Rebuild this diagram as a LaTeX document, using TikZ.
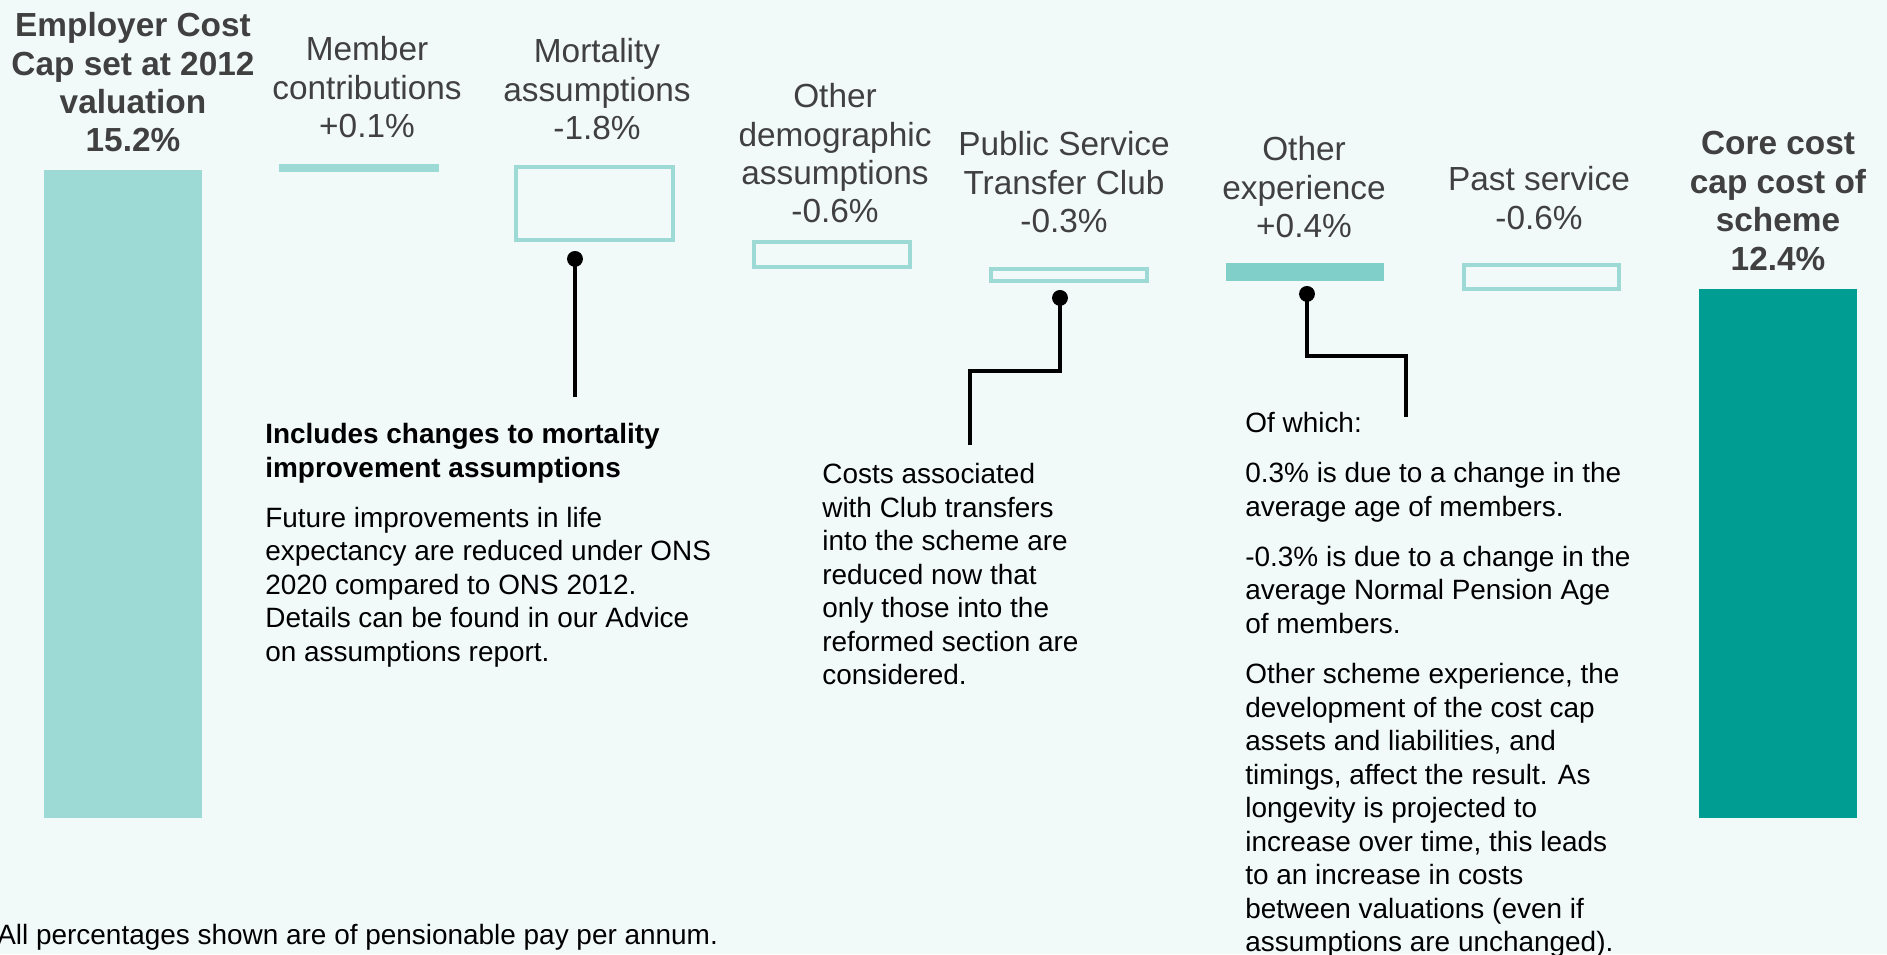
\documentclass[tikz,border=0pt]{standalone}
\usepackage{fontspec}
\setmainfont{Liberation Sans}
\usetikzlibrary{arrows.meta}
\definecolor{bgmint}{HTML}{F2FAF9}
\definecolor{paleteal}{HTML}{9DD9D5}
\definecolor{midteal}{HTML}{80CFC8}
\definecolor{coreteal}{HTML}{009E92}
\definecolor{labelgrey}{HTML}{404040}

\begin{document}
\begin{tikzpicture}[x=0.02cm,y=-0.02cm,
  steplabel/.style={anchor=north,align=center,inner sep=0pt,text=labelgrey,font=\fontsize{19}{21.9}\selectfont},
  endlabel/.style={steplabel,font=\bfseries\fontsize{19}{21.9}\selectfont},
  sidenote/.style={anchor=north west,align=left,inner sep=0pt,text=black,font=\fontsize{15.9}{19.1}\selectfont},
  stepbox/.style={draw=paleteal,line width=2.5pt},
  pin/.style={line width=2.3pt,{Circle[length=9pt,width=9pt]}-}]
\fill[bgmint] (0,0) rectangle (1887,954); % edit here for the background
\useasboundingbox (0,0) rectangle (1887,954);

% bars
\fill[paleteal] (44,170) rectangle (202,818);
\fill[paleteal] (279,164) rectangle (439,172);
\foreach \xa/\ya/\xb/\yb in {516/167/673/240, 754/242/910/267, 991/269/1147/281, 1464/265/1619/289} % edit here for the open boxes
\draw[stepbox] (\xa,\ya) rectangle (\xb,\yb);
\fill[midteal] (1226,263) rectangle (1384,281);
\fill[coreteal] (1699,289) rectangle (1857,818);

% labels above the bars
\node[endlabel] (start) at (133,12) {Employer Cost\\Cap set at 2012\\valuation\\15.2\%};
\node[steplabel] (member) at (367,36) {Member\\contributions\\+0.1\%};
\node[steplabel] (mortality) at (597,38) {Mortality\\assumptions\\-1.8\%};
\node[steplabel] (demog) at (835,83) {Other\\demographic\\assumptions\\-0.6\%};
\node[steplabel] (club) at (1064,131) {Public Service\\Transfer Club\\-0.3\%};
\node[steplabel] (otherexp) at (1304,136) {Other\\experience\\+0.4\%};
\node[steplabel] (past) at (1539,166) {Past service\\-0.6\%};
\node[endlabel] (core) at (1778,131) {Core cost\\cap cost of\\scheme\\12.4\%};

% notes
\node[sidenote] (mortnote) at (265,423) {\textbf{Includes changes to mortality}\\\textbf{improvement assumptions}\\[9.4pt]
Future improvements in life\\expectancy are reduced under ONS\\2020 compared to ONS 2012.\\Details can be found in our Advice\\on assumptions report.};
\node[sidenote] (clubnote) at (822,463) {Costs associated\\with Club transfers\\into the scheme are\\reduced now that\\only those into the\\reformed section are\\considered.};
\node[sidenote] (expnote) at (1245,412) {Of which:\\[9.4pt]
0.3\% is due to a change in the\\average age of members.\\[9.4pt]
-0.3\% is due to a change in the\\average Normal Pension Age\\of members.\\[9.4pt]
Other scheme experience, the\\development of the cost cap\\assets and liabilities, and\\timings, affect the result. As\\longevity is projected to\\increase over time, this leads\\to an increase in costs\\between valuations (even if\\assumptions are unchanged).};
\node[sidenote,anchor=west] (footnote) at (-3,937) {All percentages shown are of pensionable pay per annum.};

% connectors
\coordinate (mortdot) at (575,251);
\coordinate (mortend) at (575,397);
\coordinate (clubdot) at (1060,290);
\coordinate (clubend) at (970,445);
\coordinate (expdot) at (1307,286);
\coordinate (expend) at (1406,417);
\draw[pin] (mortdot) -- (mortend);
\draw[pin] (clubdot) |- (1015,371) -| (clubend);
\draw[pin] (expdot) |- (1356,356) -| (expend);
\end{tikzpicture}
\end{document}
